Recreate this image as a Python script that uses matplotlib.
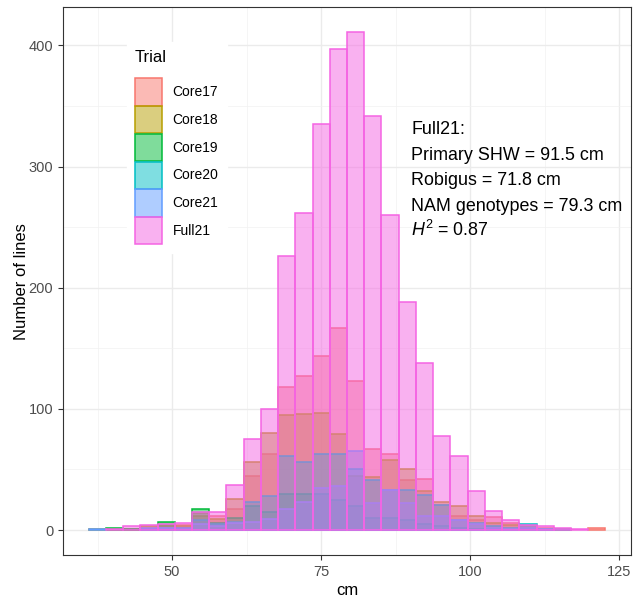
import numpy as np
import matplotlib.pyplot as plt
from matplotlib.patches import Patch
from matplotlib.legend_handler import HandlerTuple

plt.rcParams['font.family'] = ['Liberation Sans', 'DejaVu Sans']
plt.rcParams['mathtext.fontset'] = 'custom'
plt.rcParams['mathtext.it'] = 'Liberation Sans:italic'
plt.rcParams['mathtext.rm'] = 'Liberation Sans'

# histogram bins (30 bins, ggplot default)
bin_lo, bin_hi, n_bins = 36.0, 122.7, 30

trials = ['Core17', 'Core18', 'Core19', 'Core20', 'Core21', 'Full21']
colors = ['#F8766D', '#B79F00', '#00BA38', '#00BFC4', '#619CFF', '#F564E3']

core17 = [0, 1, 1, 2, 4, 4, 14, 12, 17, 45, 63, 118, 127, 144, 167, 123, 67, 63, 41, 42, 21, 12, 8, 11, 6, 3, 2, 1, 0, 2]
core18 = [1, 0, 1, 3, 3, 3, 12, 9, 26, 56, 80, 95, 96, 97, 79, 45, 44, 58, 50, 32, 23, 20, 12, 6, 4, 2, 1, 1, 0, 0]
core19 = [0, 2, 1, 1, 7, 2, 17, 6, 10, 20, 15, 30, 30, 30, 25, 20, 10, 10, 8, 5, 3, 2, 1, 1, 0, 0, 0, 0, 0, 0]
core20 = [0, 0, 0, 1, 2, 1, 8, 5, 7, 23, 28, 61, 56, 63, 63, 50, 41, 33, 33, 29, 21, 8, 6, 3, 2, 5, 1, 1, 0, 0]
core21 = [1, 0, 0, 2, 2, 2, 5, 3, 6, 7, 9, 17, 23, 35, 36, 65, 22, 33, 22, 12, 12, 8, 5, 2, 1, 2, 1, 0, 0, 0]
full21 = [0, 1, 3, 4, 5, 6, 15, 15, 37, 75, 100, 226, 262, 335, 397, 411, 342, 260, 188, 138, 78, 61, 32, 16, 8, 4, 3, 2, 1, 0]

counts = [core17, core18, core19, core20, core21, full21]

note_lines = ['Full21:', 'Primary SHW = 91.5 cm', 'Robigus = 71.8 cm',
              'NAM genotypes = 79.3 cm', r'$H^2$ = 0.87']

edges = np.linspace(bin_lo, bin_hi, n_bins + 1)
width = edges[1] - edges[0]

fig = plt.figure(figsize=(6.33, 6.0), dpi=100)
ax = fig.add_axes([0.0995, 0.075, 0.8975, 0.913])

for name, col, c in zip(trials, colors, counts):
    c = np.array(c)
    m = c > 0
    ax.bar(edges[:-1][m], c[m], width=width, align='edge', color=col, alpha=0.5,
           edgecolor='none', zorder=2)
    ax.bar(edges[:-1][m], c[m], width=width, align='edge', fill=False,
           edgecolor=col, linewidth=1.1, zorder=2)

ax.set_xlim(31.7, 127.0)
ax.set_ylim(-20.6, 431.6)
ax.set_xticks([50, 75, 100, 125])
ax.set_yticks([0, 100, 200, 300, 400])
ax.set_xticks([37.5, 62.5, 87.5, 112.5], minor=True)
ax.set_yticks([50, 150, 250, 350], minor=True)
ax.grid(True, which='major', color='#EBEBEB', linewidth=1.0, zorder=0)
ax.grid(True, which='minor', color='#F2F2F2', linewidth=0.5, zorder=0)
ax.set_axisbelow(True)
ax.tick_params(which='minor', length=0)
ax.tick_params(which='major', length=3.5, color='#333333', labelcolor='#4D4D4D',
               labelsize=10.5, width=0.8)
for s in ax.spines.values():
    s.set_color('#333333')
    s.set_linewidth(0.8)

ax.set_xlabel('cm', fontsize=12, labelpad=3)
ax.set_ylabel('Number of lines', fontsize=12, labelpad=0)

handles = [(Patch(facecolor=c, alpha=0.5, edgecolor='none'),
            Patch(fill=False, edgecolor=c, linewidth=1.1)) for c in colors]
leg = ax.legend(handles, trials, title='Trial', loc='upper left',
                bbox_to_anchor=(0.1, 0.949), fontsize=10, title_fontsize=12,
                frameon=True, fancybox=False, framealpha=1.0, edgecolor='white',
                handlelength=1.95, handleheight=2.62, labelspacing=0.05,
                handletextpad=0.75, borderpad=0.6,
                handler_map={tuple: HandlerTuple(ndivide=1, pad=0)})
leg._legend_box.align = 'left'
leg._legend_box.sep = 9.4

y_base = [327, 305.8, 284.9, 263.6, 243.0]
for line, yb in zip(note_lines, y_base):
    ax.text(90.1, yb, line, fontsize=12.9, color='black', va='baseline', ha='left')

fig.savefig('out.png', dpi=100)
